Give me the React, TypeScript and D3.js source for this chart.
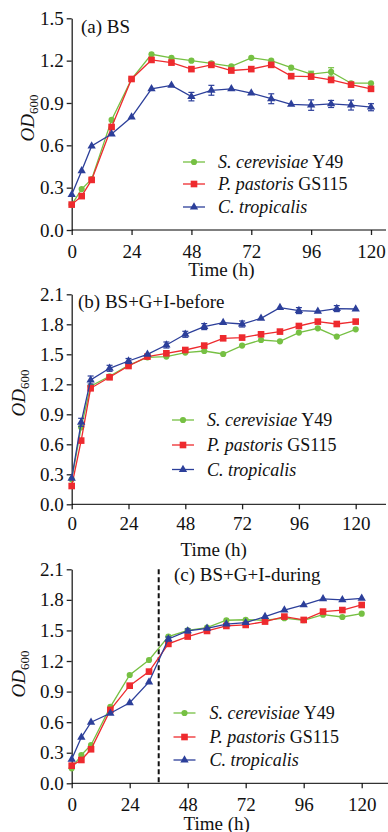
import * as d3 from "d3";
import React, { useRef, useEffect } from "react";

const W = 388;
const H = 832;
const FONT = "'Liberation Serif', 'Times New Roman', serif";

// sampling times (h)
const hours = [0, 4, 8, 16, 24, 32, 40, 48, 56, 64, 72, 80, 88, 96, 104, 112, 120];
const xTicks = [0, 24, 48, 72, 96, 120];
const yTicksA = [0, 0.3, 0.6, 0.9, 1.2, 1.5];
const yTicksBC = [0, 0.3, 0.6, 0.9, 1.2, 1.5, 1.8, 2.1];

const strains = [
  { it: "S. cerevisiae", rest: " Y49", color: "#76c043", shape: "circle" },
  { it: "P. pastoris", rest: " GS115", color: "#ee2a2e", shape: "square" },
  { it: "C. tropicalis", rest: "", color: "#2c3f9a", shape: "triangle" },
];

// (a) BS
const bsScer = [0.18, 0.29, 0.36, 0.78, 1.07, 1.245, 1.22, 1.2, 1.18, 1.16, 1.22, 1.2, 1.15, 1.105, 1.12, 1.04, 1.04];
const bsPpas = [0.18, 0.24, 0.355, 0.73, 1.07, 1.205, 1.186, 1.14, 1.17, 1.13, 1.14, 1.17, 1.09, 1.087, 1.063, 1.03, 1.0];
const bsCtro = [0.25, 0.42, 0.595, 0.68, 0.8, 1.0, 1.025, 0.945, 0.99, 1.0, 0.97, 0.93, 0.89, 0.885, 0.893, 0.885, 0.87];
const bsScerErr = [0, 0, 0, 0, 0, 0, 0, 0, 0, 0, 0, 0, 0, 0.02, 0.03, 0, 0];
const bsPpasErr = [0, 0, 0, 0, 0, 0, 0, 0, 0, 0, 0, 0, 0, 0, 0, 0, 0];
const bsCtroErr = [0, 0, 0, 0, 0, 0, 0, 0.03, 0.035, 0, 0, 0.035, 0, 0.037, 0.025, 0.035, 0.025];

// (b) BS+G+I-before
const befScer = [0.25, 0.77, 1.18, 1.28, 1.39, 1.47, 1.477, 1.517, 1.533, 1.503, 1.587, 1.643, 1.63, 1.717, 1.76, 1.677, 1.75];
const befPpas = [0.183, 0.637, 1.16, 1.27, 1.383, 1.477, 1.51, 1.543, 1.587, 1.66, 1.667, 1.7, 1.727, 1.783, 1.827, 1.803, 1.827];
const befCtro = [0.26, 0.82, 1.243, 1.36, 1.433, 1.5, 1.593, 1.7, 1.777, 1.817, 1.803, 1.86, 1.967, 1.937, 1.93, 1.957, 1.953];
const befScerErr = [0, 0, 0, 0, 0, 0, 0, 0, 0, 0, 0, 0, 0, 0, 0, 0, 0];
const befPpasErr = [0, 0, 0, 0, 0, 0, 0, 0, 0, 0, 0, 0, 0, 0, 0, 0, 0];
const befCtroErr = [0, 0.04, 0.04, 0.03, 0.025, 0, 0.03, 0.03, 0.03, 0, 0.03, 0, 0, 0.03, 0, 0.03, 0];

// (c) BS+G+I-during
const durScer = [0.147, 0.278, 0.376, 0.75, 1.063, 1.21, 1.44, 1.5, 1.527, 1.6, 1.605, 1.6, 1.62, 1.6, 1.655, 1.632, 1.665];
const durPpas = [0.173, 0.229, 0.334, 0.72, 0.958, 1.096, 1.368, 1.44, 1.495, 1.544, 1.554, 1.587, 1.636, 1.603, 1.685, 1.7, 1.75];
const durCtro = [0.235, 0.451, 0.599, 0.687, 0.79, 0.994, 1.416, 1.495, 1.52, 1.563, 1.576, 1.636, 1.7, 1.75, 1.81, 1.8, 1.815];
const durScerErr = [0, 0, 0, 0, 0, 0, 0, 0, 0, 0, 0, 0, 0, 0, 0, 0, 0];
const durPpasErr = [0, 0, 0, 0, 0, 0, 0, 0, 0, 0, 0, 0, 0, 0, 0, 0, 0];
const durCtroErr = [0, 0, 0, 0, 0, 0, 0.02, 0.02, 0, 0, 0, 0, 0, 0, 0, 0, 0];
const additionTime = 36;

const panels = [
  {
    title: "(a) BS", titleX: 81, titleY: 33,
    series: [bsScer, bsPpas, bsCtro], errs: [bsScerErr, bsPpasErr, bsCtroErr],
    yTicks: yTicksA, yTop: 18.3, yBot: 230, x0: 71.7, x1: 371, axisEnd: 386,
    tickLabelY: 28, timeY: 276, odX: 34, odY: 118,
    legX: 183, legY: [162, 184, 207], legText: 218, marker: null,
  },
  {
    title: "(b) BS+G+I-before", titleX: 78, titleY: 308,
    series: [befScer, befPpas, befCtro], errs: [befScerErr, befPpasErr, befCtroErr],
    yTicks: yTicksBC, yTop: 294.3, yBot: 504.3, x0: 71.7, x1: 355.7, axisEnd: 386,
    tickLabelY: 26, timeY: 556, odX: 25, odY: 393,
    legX: 172, legY: [420, 445, 469.5], legText: 207, marker: null,
  },
  {
    title: "(c) BS+G+I-during", titleX: 174, titleY: 581,
    series: [durScer, durPpas, durCtro], errs: [durScerErr, durPpasErr, durCtroErr],
    yTicks: yTicksBC, yTop: 569.3, yBot: 783.3, x0: 71.7, x1: 361.7, axisEnd: 388,
    tickLabelY: 27.5, timeY: 829.5, odX: 25, odY: 674,
    legX: 173.5, legY: [713, 737, 760], legText: 209.5, marker: additionTime,
  },
];

function symbolFor(shape) {
  if (shape === "circle") return d3.symbol(d3.symbolCircle, 30);
  if (shape === "square") return d3.symbol(d3.symbolSquare, 44);
  return d3.symbol(d3.symbolTriangle, 30);
}

function App() {
  const ref = useRef(null);

  useEffect(() => {
    const svg = d3.select(ref.current);
    svg.selectAll("*").remove();
    svg.style("font-family", FONT);

    panels.forEach((p) => {
      const g = svg.append("g");
      const x = d3.scaleLinear().domain([0, 120]).range([p.x0, p.x1]);
      const yMax = p.yTicks[p.yTicks.length - 1];
      const y = d3.scaleLinear().domain([0, yMax]).range([p.yBot, p.yTop]);

      // y-axis
      const ya = g
        .append("g")
        .attr("transform", `translate(${p.x0},0)`)
        .call(
          d3.axisLeft(y).tickValues(p.yTicks).tickSize(5).tickSizeOuter(0).tickPadding(3).tickFormat(d3.format(".1f"))
        );
      ya.selectAll("text").attr("font-size", 19).attr("font-family", FONT).attr("fill", "#111");

      // x-axis
      const xa = g
        .append("g")
        .attr("transform", `translate(0,${p.yBot})`)
        .call(d3.axisBottom(x).tickValues(xTicks).tickSize(5).tickSizeOuter(0));
      xa.select(".domain").remove();
      xa.selectAll("text")
        .attr("y", p.tickLabelY)
        .attr("dy", null)
        .attr("font-size", 19)
        .attr("font-family", FONT)
        .attr("fill", "#111");
      xa.append("line")
        .attr("x1", p.x0).attr("x2", p.axisEnd)
        .attr("stroke", "currentColor");
      g.selectAll(".domain, .tick line").attr("stroke", "#222").attr("stroke-width", 1.3);

      // axis titles
      g.append("text")
        .attr("x", (p.x0 + p.x1) / 2)
        .attr("y", p.timeY)
        .attr("text-anchor", "middle")
        .attr("font-size", 19)
        .attr("fill", "#111")
        .text("Time (h)");

      const od = g.append("text")
        .attr("transform", `translate(${p.odX},${p.odY}) rotate(-90)`)
        .attr("text-anchor", "middle")
        .attr("font-size", 19)
        .attr("fill", "#111");
      od.append("tspan").attr("font-style", "italic").text("OD");
      od.append("tspan").attr("font-size", 13).attr("dy", 4).text("600");

      g.append("text")
        .attr("x", p.titleX)
        .attr("y", p.titleY)
        .attr("font-size", 19)
        .attr("fill", "#111")
        .text(p.title);

      if (p.marker != null) {
        g.append("line")
          .attr("x1", x(p.marker)).attr("x2", x(p.marker))
          .attr("y1", p.yTop).attr("y2", p.yBot)
          .attr("stroke", "#111")
          .attr("stroke-width", 2)
          .attr("stroke-dasharray", "5,3");
      }

      // series
      p.series.forEach((vals, i) => {
        const s = strains[i];
        const pts = hours.map((h, j) => ({ h, v: vals[j], e: p.errs[i][j] }));
        const sg = g.append("g");

        sg.append("path")
          .datum(pts)
          .attr("fill", "none")
          .attr("stroke", s.color)
          .attr("stroke-width", 1.3)
          .attr("d", d3.line().x((d) => x(d.h)).y((d) => y(d.v)));

        const eb = sg.selectAll(".err").data(pts.filter((d) => d.e > 0)).join("g");
        eb.append("line")
          .attr("x1", (d) => x(d.h)).attr("x2", (d) => x(d.h))
          .attr("y1", (d) => y(d.v - d.e)).attr("y2", (d) => y(d.v + d.e))
          .attr("stroke", s.color).attr("stroke-width", 1.2);
        [-1, 1].forEach((sgn) => {
          eb.append("line")
            .attr("x1", (d) => x(d.h) - 3).attr("x2", (d) => x(d.h) + 3)
            .attr("y1", (d) => y(d.v + sgn * d.e)).attr("y2", (d) => y(d.v + sgn * d.e))
            .attr("stroke", s.color).attr("stroke-width", 1.2);
        });

        sg.selectAll(".pt")
          .data(pts)
          .join("path")
          .attr("transform", (d) => `translate(${x(d.h)},${y(d.v)})`)
          .attr("d", symbolFor(s.shape))
          .attr("fill", s.color);

        // legend
        const ly = p.legY[i];
        const lg = g.append("g");
        lg.append("line")
          .attr("x1", p.legX).attr("x2", p.legX + 22)
          .attr("y1", ly).attr("y2", ly)
          .attr("stroke", s.color).attr("stroke-width", 1.3);
        lg.append("path")
          .attr("transform", `translate(${p.legX + 11},${ly})`)
          .attr("d", symbolFor(s.shape))
          .attr("fill", s.color);
        const t = lg.append("text")
          .attr("x", p.legText)
          .attr("y", ly + 6)
          .attr("font-size", 18)
          .attr("fill", "#111");
        t.append("tspan").attr("font-style", "italic").text(s.it);
        if (s.rest) t.append("tspan").text(s.rest);
      });
    });
  }, []);

  return (
    <svg
      ref={ref}
      width={W}
      height={H}
      style={{ position: "absolute", left: 0, top: 0, background: "#fff" }}
    ></svg>
  );
}

export default App;
